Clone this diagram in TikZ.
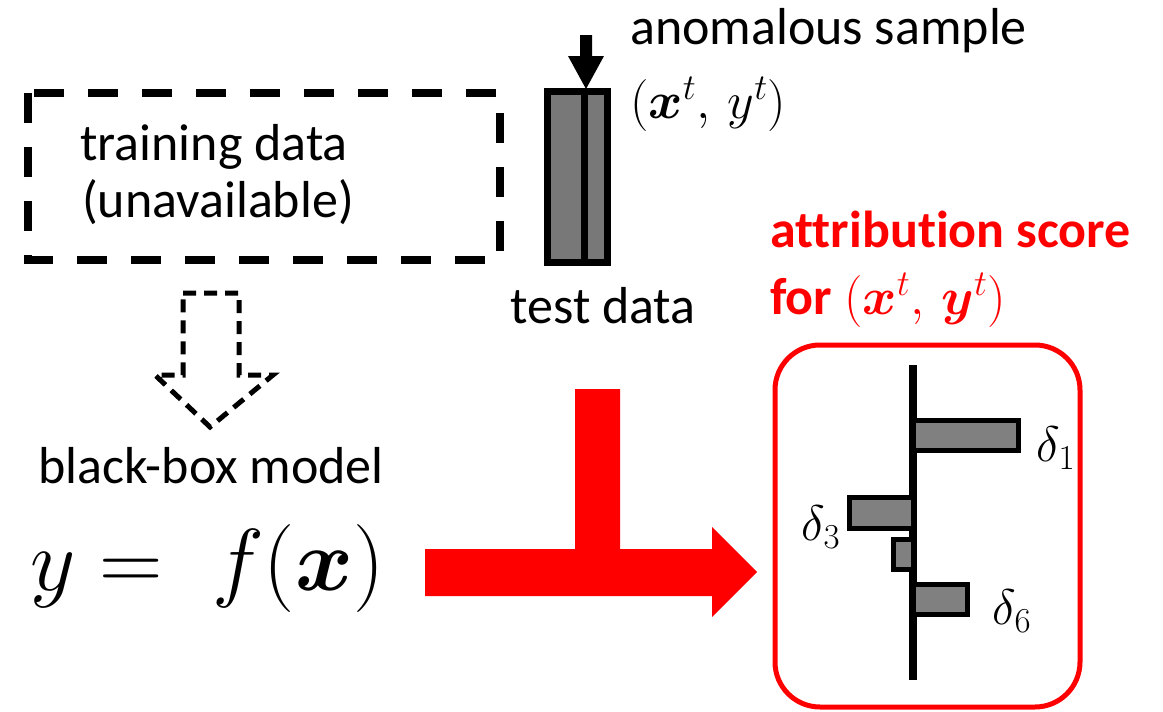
\RequirePackage{fix-cm}
\documentclass[tikz,border=0pt]{standalone}
\usepackage{amsmath,bm}
\usepackage{fontspec}
\setmainfont{Carlito}[Ligatures=NoCommon]
\begin{document}
\begin{tikzpicture}[x=1pt,y=-1pt,
  txt/.style={font=\fontsize{52}{60}\selectfont, inner sep=0pt, anchor=base},
  redtxt/.style={txt, text=red, font=\fontsize{52}{60}\selectfont\bfseries},
  dlab/.style={font=\fontsize{50}{54}\selectfont, inner sep=0pt},
  bar/.style={draw=black, line width=5pt, fill=black!50},
  dashbox/.style={draw=black, line width=8pt, dash pattern=on 30pt off 24pt},
  dasharrow/.style={draw=black, line width=5pt, dash pattern=on 13pt off 8pt},
  redarrow/.style={fill=red, draw=none},
  resultbox/.style={draw=red, line width=5pt, rounded corners=45pt}]
\useasboundingbox (0,0) rectangle (1163,712);

% training data dashed box
\draw[dashbox] (28,93) rectangle (500,260);
\node[txt] (train1) at (214,160) {training data};
\node[txt] (train2) at (218,217) {(unavailable)};

% test data
\draw[line width=7pt, fill=black!53] (547.5,91.5) rectangle (607.5,262.5);
\draw[line width=7pt] (584,91.5) -- (584,262.5);
\node[txt] (test) at (603,323) {test data};

% anomalous arrow
\fill[black] (580,35) -- (592,35) -- (592,56) -- (604,56) -- (586,89) -- (568,56) -- (580,56) -- cycle;
\node[txt, anchor=base west] (anom) at (630,45) {anomalous sample};
\node[txt, anchor=base west, font=\fontsize{52}{60}\selectfont] (xy) at (630,118) {$(\bm{x}^t,\, y^t)$};

% dashed down arrow
\draw[dasharrow] (183,293) -- (239,293) -- (239,375) -- (273,375) -- (210,427) -- (155,375) -- (183,375) -- cycle;

% black-box model
\node[txt] (bb) at (211,483) {black-box model};
\node[inner sep=0pt, anchor=base west, font=\fontsize{88}{100}\selectfont] (fx) at (30,590) {$y = \;f(\bm{x})$};

% red arrow
\fill[redarrow] (425,549) -- (575,549) -- (575,389) -- (620,389) -- (620,549) -- (712,549) -- (712,527) -- (757,572) -- (712,617) -- (712,596) -- (425,596) -- cycle;

% attribution label
\node[redtxt, anchor=base west] (attr1) at (770,247) {attribution score};
\node[redtxt, anchor=base west] (attr2) at (770,314) {for $(\bm{x}^t,\, \bm{y}^t)$};

% result box
\draw[resultbox] (775,345) rectangle (1080,707);
\draw[line width=8pt] (913,365) -- (913,680);
\draw[bar] (913,420.5) rectangle (1018.5,450.5);
\draw[bar] (849.5,497.5) rectangle (913,528.5);
\draw[bar] (893.5,539.5) rectangle (913,569.5);
\draw[bar] (913,584.5) rectangle (967.5,614.5);
\node[dlab] (d1) at (1056,448) {$\delta_1$};
\node[dlab] (d3) at (821,527) {$\delta_3$};
\node[dlab] (d6) at (1012,611) {$\delta_6$};
\end{tikzpicture}
\end{document}
